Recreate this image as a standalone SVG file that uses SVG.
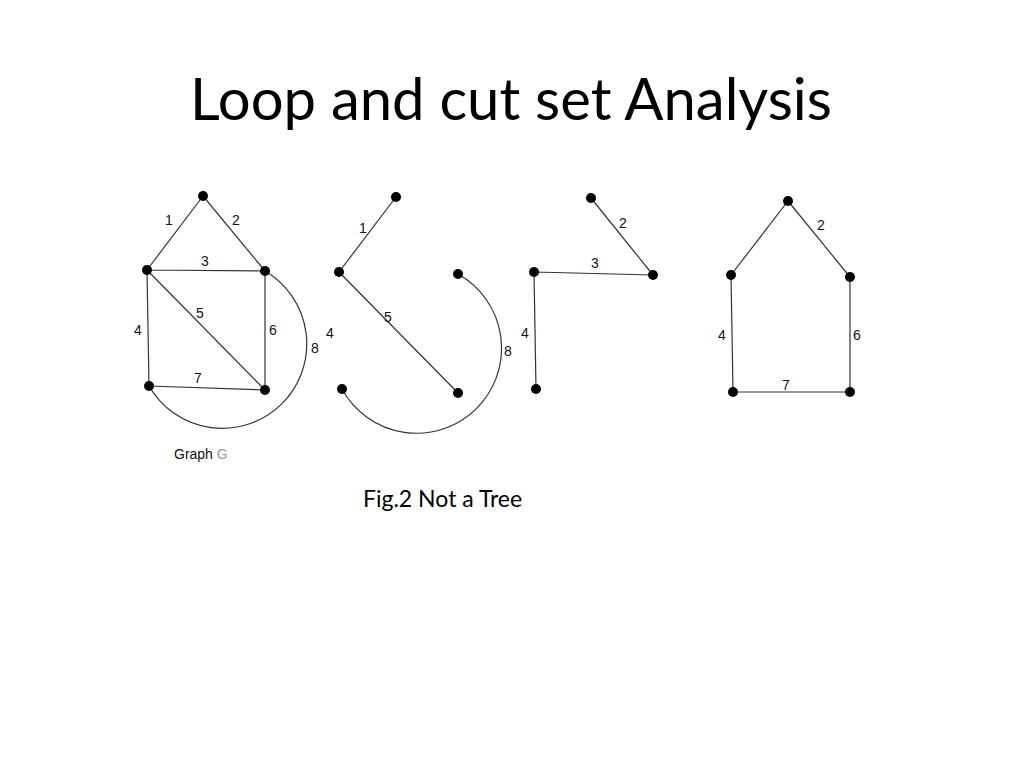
<svg xmlns="http://www.w3.org/2000/svg" width="1024" height="768" viewBox="0 0 1024 768">
<style>
.e{stroke:#333;stroke-width:1.2;fill:none}
.n{fill:#000}
.l{font-family:"Liberation Sans",Arial,sans-serif;font-size:14px;fill:#111;text-anchor:middle}
</style>
<rect width="1024" height="768" fill="#fff"/>
<text x="511" y="120" font-family="Lato,'Open Sans',sans-serif" font-size="58" text-anchor="middle" fill="#000">Loop and cut set Analysis</text>
<g id="connectors">
<path class="e" d="M203,196 L147,270 M203,196 L265,271 M147,270 L265,271 M147,270 L149,386 M147,270 L265,390 M265,271 L265,390 M149,386 L265,390"/>
<path class="e" d="M265,271 A84.5,84.5 0 1 1 149,386"/>
<path class="e" d="M396,197 L339,272 M339,272 L458,393"/>
<path class="e" d="M458,274 A85,85 0 1 1 342,389"/>
<path class="e" d="M591,198 L653,275 M534,272 L653,275 M534,272 L536,389"/>
<path class="e" d="M788,201 L731,275 M788,201 L850,277 M731,275 L733,392 M850,277 L850,392 M733,392 L850,392"/>
</g>
<g id="nodes">
<circle class="n" cx="203" cy="196" r="5"/><circle class="n" cx="147" cy="270" r="5"/><circle class="n" cx="265" cy="271" r="5"/><circle class="n" cx="149" cy="386" r="5"/><circle class="n" cx="265" cy="390" r="5"/>
<circle class="n" cx="396" cy="197" r="5"/><circle class="n" cx="339" cy="272" r="5"/><circle class="n" cx="458" cy="274" r="5"/><circle class="n" cx="342" cy="389" r="5"/><circle class="n" cx="458" cy="393" r="5"/>
<circle class="n" cx="591" cy="198" r="5"/><circle class="n" cx="653" cy="275" r="5"/><circle class="n" cx="534" cy="272" r="5"/><circle class="n" cx="536" cy="389" r="5"/>
<circle class="n" cx="788" cy="201" r="5"/><circle class="n" cx="731" cy="275" r="5"/><circle class="n" cx="850" cy="277" r="5"/><circle class="n" cx="733" cy="392" r="5"/><circle class="n" cx="850" cy="392" r="5"/>
</g>
<g id="labels">
<text class="l" x="169" y="225">1</text><text class="l" x="236" y="225">2</text><text class="l" x="205" y="266">3</text><text class="l" x="200" y="318">5</text><text class="l" x="138" y="335">4</text><text class="l" x="273" y="335">6</text><text class="l" x="315" y="353">8</text><text class="l" x="198" y="383">7</text>
<text class="l" x="363" y="233">1</text><text class="l" x="388" y="322">5</text><text class="l" x="330" y="338">4</text><text class="l" x="508" y="356">8</text>
<text class="l" x="623" y="228">2</text><text class="l" x="595" y="268">3</text><text class="l" x="525" y="338">4</text>
<text class="l" x="821" y="230">2</text><text class="l" x="722" y="340">4</text><text class="l" x="857" y="340">6</text><text class="l" x="786" y="390">7</text>
<text x="174" y="459" font-family="Liberation Sans,Arial,sans-serif" font-size="14" fill="#111">Graph <tspan fill="#999">G</tspan></text>
<text x="363" y="507" font-family="Lato,'Open Sans',sans-serif" font-size="23" fill="#000">Fig.2 Not a Tree</text>
</g>
</svg>
